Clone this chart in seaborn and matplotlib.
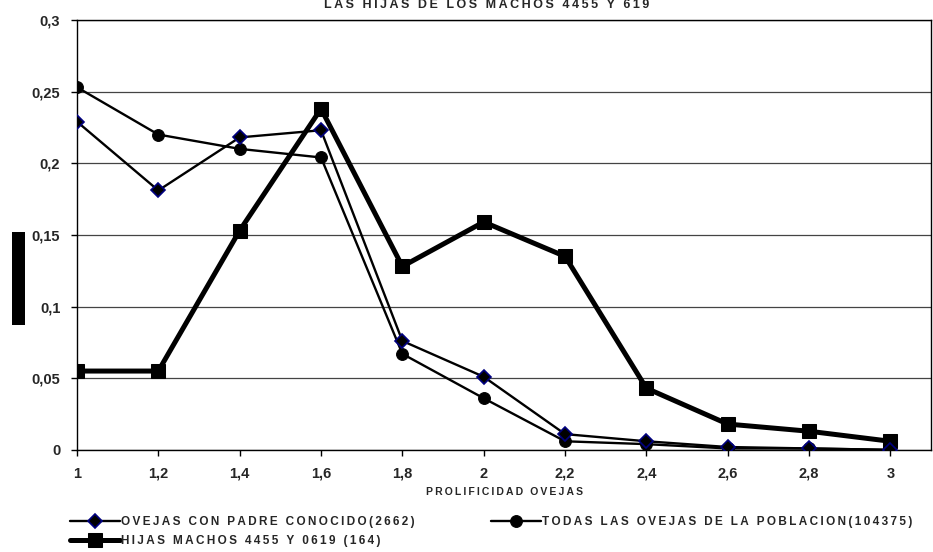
import pandas as pd
import matplotlib
matplotlib.use("Agg")
import matplotlib.pyplot as plt
from matplotlib.patches import Rectangle
import seaborn as sns

# datos
prolificidad = [1.0, 1.2, 1.4, 1.6, 1.8, 2.0, 2.2, 2.4, 2.6, 2.8, 3.0]
etiquetas_x = ["1", "1,2", "1,4", "1,6", "1,8", "2", "2,2", "2,4", "2,6", "2,8", "3"]
padre_conocido = [0.229, 0.181, 0.218, 0.223, 0.076, 0.051, 0.011, 0.006, 0.002, 0.001, 0.0]
toda_poblacion = [0.253, 0.220, 0.210, 0.204, 0.067, 0.036, 0.006, 0.004, 0.001, 0.001, 0.0]
hijas_machos = [0.055, 0.055, 0.153, 0.238, 0.128, 0.159, 0.135, 0.043, 0.018, 0.013, 0.006]
ticks_y = [0, 0.05, 0.1, 0.15, 0.2, 0.25, 0.3]
etiquetas_y = ["0", "0,05", "0,1", "0,15", "0,2", "0,25", "0,3"]

nombres = ["OVEJAS CON PADRE CONOCIDO(2662)",
           "TODAS LAS OVEJAS DE LA POBLACION(104375)",
           "HIJAS MACHOS 4455 Y 0619 (164)"]


# espaciado entre letras como en el original (espacio fino)
def espaciar(txt):
    return "\u2009".join(txt)


df = pd.DataFrame({"x": prolificidad,
                   nombres[0]: padre_conocido,
                   nombres[1]: toda_poblacion,
                   nombres[2]: hijas_machos})

sns.set_style("white")
plt.rcParams['font.family'] = ['Liberation Sans', 'DejaVu Sans']
plt.rcParams['font.weight'] = 'bold'

fig = plt.figure(figsize=(9.33, 5.52), dpi=100)
ax = fig.add_axes([0.0825, 0.185, 0.9155, 0.779])

# orden de dibujo: cuadrados abajo, rombos arriba
sns.lineplot(data=df, x="x", y=nombres[2], ax=ax, color="black", linewidth=3.6,
             marker="s", markersize=10.5, markeredgecolor="black",
             label=espaciar(nombres[2]), zorder=3)
sns.lineplot(data=df, x="x", y=nombres[1], ax=ax, color="black", linewidth=1.7,
             marker="o", markersize=8.5, markeredgecolor="black",
             label=espaciar(nombres[1]), zorder=4)
sns.lineplot(data=df, x="x", y=nombres[0], ax=ax, color="black", linewidth=1.7,
             marker="D", markersize=7.5, markerfacecolor="black", markeredgecolor="#000080",
             markeredgewidth=1.2, label=espaciar(nombres[0]), zorder=5)

ax.set_xlim(1.0, 3.1)
ax.set_ylim(0, 0.3)
ax.set_xticks(prolificidad)
ax.set_xticklabels(etiquetas_x, fontsize=10.5, fontweight='bold')
ax.set_yticks(ticks_y)
ax.set_yticklabels(etiquetas_y, fontsize=10.5, fontweight='bold')
ax.tick_params(axis='both', direction='out', length=4, width=1, color='black',
               left=True, bottom=True, pad=8)
ax.yaxis.grid(True, color='#444444', linewidth=0.9)
ax.set_axisbelow(True)
for s in ax.spines.values():
    s.set_color('black')
    s.set_linewidth(1)
ax.set_xlabel(espaciar("PROLIFICIDAD OVEJAS"), fontsize=7.5, fontweight='bold', labelpad=5)
ax.set_ylabel("")

# leyenda en dos columnas (por columnas: rombo, cuadrado | circulo)
handles, labels = ax.get_legend_handles_labels()
orden = [2, 0, 1]
ax.legend([handles[i] for i in orden], [labels[i] for i in orden],
          loc='upper left', bbox_to_anchor=(70 / 933, 1 - 516 / 552),
          bbox_transform=fig.transFigure, ncol=2, frameon=False,
          prop={'size': 8.5, 'weight': 'bold'}, handlelength=4.2, handletextpad=0.1,
          columnspacing=6.5, labelspacing=0.6, borderaxespad=0, borderpad=0)

# titulo cortado arriba
fig.text(0.522, 1 - 8 / 552, espaciar("LAS HIJAS DE LOS MACHOS 4455 Y 619"), ha='center',
         va='baseline', fontsize=9, fontweight='bold')

# bloque negro del titulo del eje Y
fig.patches.append(Rectangle((12 / 933, 1 - 325 / 552), 13 / 933, 93 / 552,
                             transform=fig.transFigure, facecolor='black',
                             edgecolor='none', figure=fig))

fig.savefig("out.png", dpi=100)
